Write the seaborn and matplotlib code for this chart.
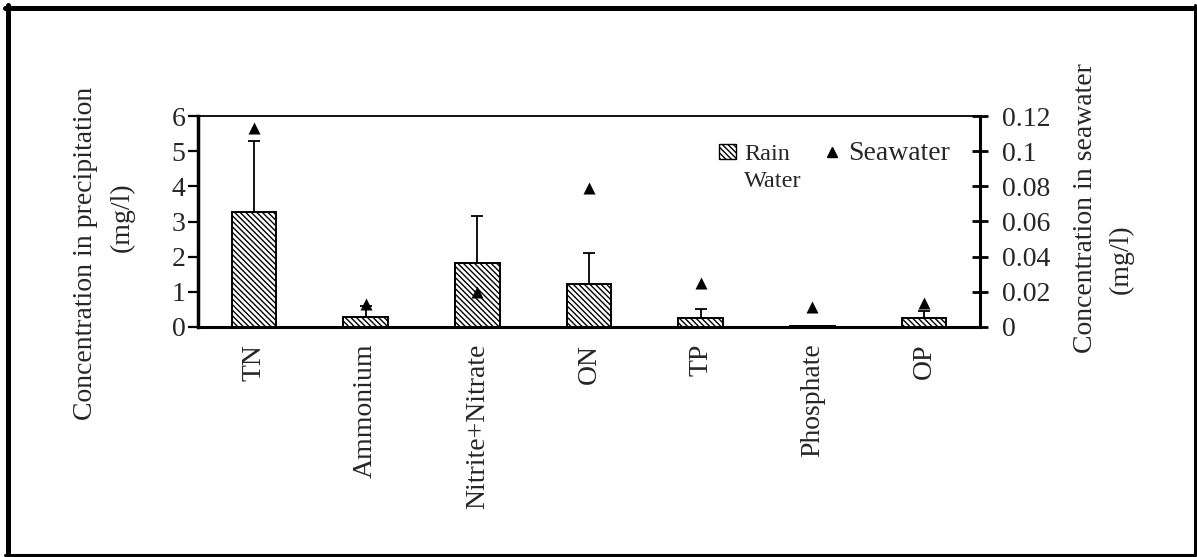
import matplotlib
matplotlib.use("Agg")
import matplotlib.pyplot as plt
import seaborn as sns
import pandas as pd
import numpy as np
from matplotlib.patches import Patch
from matplotlib.lines import Line2D

categories = ["TN", "Ammonium", "Nitrite+Nitrate", "ON", "TP", "Phosphate", "OP"]
rain_mean = [3.28, 0.29, 1.81, 1.22, 0.25, 0.03, 0.25]
rain_err = [2.01, 0.30, 1.34, 0.89, 0.26, 0.0, 0.21]
seawater = [0.113, 0.013, 0.020, 0.079, 0.025, 0.0116, 0.0138]
left_ticks = [0, 1, 2, 3, 4, 5, 6]
right_ticks = [0, 0.02, 0.04, 0.06, 0.08, 0.10, 0.12]
right_ticklabels = ["0", "0.02", "0.04", "0.06", "0.08", "0.1", "0.12"]

sns.set_theme(style="white")
plt.rcParams["font.family"] = ["Liberation Serif", "DejaVu Serif"]
plt.rcParams["hatch.linewidth"] = 1.0
plt.rcParams["hatch.color"] = "black"

HATCH = "\\" * 6
FS = 20

fig = plt.figure(figsize=(11.97, 5.57), dpi=100)
W, H = 1197.0, 557.0
ax = fig.add_axes([198 / W, 1 - 327 / H, (980 - 198) / W, (327 - 116) / H])

df = pd.DataFrame({"category": categories, "value": rain_mean})
sns.barplot(data=df, x="category", y="value", ax=ax, color="white",
            edgecolor="black", linewidth=1.4, width=0.4, errorbar=None,
            hatch=HATCH, saturation=1)
xpos = np.arange(len(categories))
ax.errorbar(xpos, rain_mean, yerr=[np.zeros(len(categories)), rain_err],
            fmt="none", ecolor="black", elinewidth=1.3, capsize=4, capthick=1.3)

ax.set_xlim(-0.5, len(categories) - 0.5)
ax.set_ylim(0, 6)
ax.set_yticks(left_ticks)
ax.set_xlabel("")
ax.set_ylabel("")
ax.set_xticks(xpos)
ax.set_xticklabels(categories, rotation=90, fontsize=FS)
ax.set_xticks(np.arange(-0.5, len(categories)), minor=True)
ax.tick_params(axis="x", which="major", length=0, pad=12)
ax.tick_params(axis="x", which="minor", length=7, width=2, direction="out", color="black")
ax.tick_params(axis="y", which="major", length=7, width=1.6, direction="out",
               labelsize=FS, pad=2, color="black", left=True)

ax2 = ax.twinx()
sns.scatterplot(x=xpos, y=seawater, ax=ax2, marker="^", s=75, color="black",
                linewidth=0, legend=False, zorder=5)
ax2.set_ylim(0, 0.12)
ax2.set_yticks(right_ticks)
ax2.set_yticklabels(right_ticklabels)
ax2.tick_params(axis="y", which="major", length=11.5, width=2, direction="inout",
                labelsize=FS, pad=10, color="black", right=True)

for s in ["left", "top", "bottom"]:
    ax2.spines[s].set_visible(False)
ax2.spines["right"].set_linewidth(2.2)
ax2.spines["right"].set_color("black")
ax.spines["right"].set_visible(False)
ax.spines["left"].set_linewidth(2.5)
ax.spines["bottom"].set_linewidth(2.2)
ax.spines["top"].set_linewidth(1.3)
for s in ["left", "bottom", "top"]:
    ax.spines[s].set_color("black")

# axis titles
fig.text(86 / W, 1 - 253 / H, "Concentration in precipitation", rotation=90,
         ha="center", va="center", fontsize=FS)
fig.text(122 / W, 1 - 217 / H, "(mg/l)", rotation=90,
         ha="center", va="center", fontsize=FS)
fig.text(1085 / W, 1 - 208 / H, "Concentration in seawater", rotation=90,
         ha="center", va="center", fontsize=FS)
fig.text(1121 / W, 1 - 259 / H, "(mg/l)", rotation=90,
         ha="center", va="center", fontsize=FS)

# legend: first column "Rain" / "Water", second column "Seawater"
blank = Patch(facecolor="none", edgecolor="none")
handles = [Patch(facecolor="white", edgecolor="black", hatch=HATCH, linewidth=1),
           blank,
           Line2D([], [], marker="^", linestyle="none", color="black", markersize=7)]
leg = ax.legend(handles, ["Rain", "Water", "Seawater"], ncol=2, frameon=False,
                loc="upper left", bbox_to_anchor=(719 / W, 1 - 141 / H),
                bbox_transform=fig.transFigure, fontsize=17.5, handlelength=0.7,
                handleheight=0.6, handletextpad=0.33, columnspacing=0.9,
                labelspacing=0.25, borderpad=0, borderaxespad=0)
leg.get_texts()[2].set_fontsize(FS)

# outer frame
fig.add_artist(Line2D([7.5 / W, 7.5 / W], [1 - 5 / H, 1 - 555 / H], color="black", lw=3.6,
                      transform=fig.transFigure))
fig.add_artist(Line2D([5 / W, 1195 / W], [1 - 7.5 / H, 1 - 7.5 / H], color="black", lw=3.6,
                      transform=fig.transFigure))
fig.add_artist(Line2D([1195 / W, 1195 / W], [1 - 5 / H, 1 - 555 / H], color="black", lw=2.2,
                      transform=fig.transFigure))
fig.add_artist(Line2D([5 / W, 1195 / W], [1 - 555 / H, 1 - 555 / H], color="black", lw=2.2,
                      transform=fig.transFigure))

fig.savefig("out.png", dpi=100, facecolor="white")
